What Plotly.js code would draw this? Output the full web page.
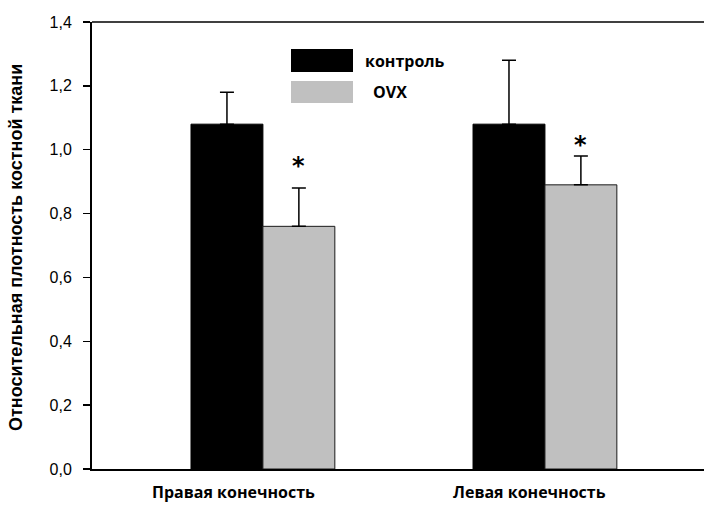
<!DOCTYPE html>
<html>
<head>
<meta charset="utf-8">
<script src="https://cdn.plot.ly/plotly-3.0.1.min.js"></script>
<style>html,body{margin:0;padding:0;background:#fff;}#chart{width:704px;height:505px;}</style>
</head>
<body>
<div id="chart"></div>
<script>
// Data
var groupLabels = ['Правая конечность', 'Левая конечность'];
var groupPos = [0, 1];
var seriesNames = ['контроль', 'OVX'];
var controlValues = [1.08, 1.08];
var controlErr = [0.10, 0.20];
var ovxValues = [0.76, 0.89];
var ovxErr = [0.12, 0.09];
var sigMarks = ['*', '*'];
var sigY = [0.95, 1.015];
var yTicks = [0, 0.2, 0.4, 0.6, 0.8, 1.0, 1.2, 1.4];

var traces = [
  {
    type: 'bar', name: seriesNames[0], x: groupPos, y: controlValues,
    marker: {color: '#000000', line: {color: '#000000', width: 1}},
    error_y: {type: 'data', array: controlErr, arrayminus: [0, 0], symmetric: false, color: '#000000', thickness: 1.5, width: 7},
    showlegend: false, hoverinfo: 'skip'
  },
  {
    type: 'bar', name: seriesNames[1], x: groupPos, y: ovxValues,
    marker: {color: '#c0c0c0', line: {color: '#1a1a1a', width: 1}},
    error_y: {type: 'data', array: ovxErr, arrayminus: [0, 0], symmetric: false, color: '#000000', thickness: 1.5, width: 7},
    showlegend: false, hoverinfo: 'skip'
  }
];

var L = 92, T = 22, W = 612, H = 447;
function px(x) { return (x - L) / W; }
function py(y) { return (T + H - y) / H; }

var barOffset = 0.1275;
var annotations = [];
// significance asterisks on OVX bars
for (var i = 0; i < groupPos.length; i++) {
  annotations.push({
    x: groupPos[i] + barOffset, y: sigY[i], xref: 'x', yref: 'y',
    text: '<b>' + sigMarks[i] + '</b>', showarrow: false,
    font: {family: 'DejaVu Sans', size: 24, color: '#000'},
    xanchor: 'center', yanchor: 'middle'
  });
}
// category labels
var labelX = [-0.103, 0.947];
for (var j = 0; j < groupLabels.length; j++) {
  annotations.push({
    x: labelX[j], y: py(504), xref: 'x', yref: 'paper',
    text: '<b>' + groupLabels[j] + '</b>', showarrow: false, borderpad: 0,
    font: {family: 'Open Sans', size: 16, color: '#000'},
    xanchor: 'center', yanchor: 'bottom'
  });
}
// y title
annotations.push({
  x: 0, y: py(248), xref: 'paper', yref: 'paper', xshift: -76,
  text: '<b>Относительная плотность костной ткани</b>', showarrow: false, textangle: -90,
  font: {family: 'Liberation Sans', size: 18, color: '#000'},
  xanchor: 'center', yanchor: 'middle'
});
// legend texts
annotations.push({
  x: px(363), y: py(61), xref: 'paper', yref: 'paper', text: '<b>' + seriesNames[0] + '</b>', showarrow: false,
  font: {family: 'Open Sans', size: 16, color: '#000'}, xanchor: 'left', yanchor: 'middle'
});
annotations.push({
  x: px(371), y: py(92), xref: 'paper', yref: 'paper', text: '<b>' + seriesNames[1] + '</b>', showarrow: false,
  font: {family: 'Open Sans', size: 16, color: '#000'}, xanchor: 'left', yanchor: 'middle'
});

var shapes = [
  {type: 'line', xref: 'paper', yref: 'paper', x0: 0, x1: 1, y0: 1, y1: 1, line: {color: '#000', width: 1.5}},
  {type: 'rect', xref: 'paper', yref: 'paper', x0: px(291), x1: px(353), y0: py(72), y1: py(49), fillcolor: '#000000', line: {width: 0}},
  {type: 'rect', xref: 'paper', yref: 'paper', x0: px(291), x1: px(353), y0: py(103), y1: py(81), fillcolor: '#c0c0c0', line: {width: 0}}
];

var layout = {
  width: 704, height: 505,
  margin: {l: L, r: 0, t: T, b: 505 - T - H},
  paper_bgcolor: '#ffffff', plot_bgcolor: '#ffffff',
  separators: ', ',
  barmode: 'group', bargap: 0.49, bargroupgap: 0,
  showlegend: false,
  xaxis: {
    range: [-0.606, 1.564], showticklabels: false, ticks: '', showgrid: false, zeroline: false,
    showline: true, linecolor: '#000', linewidth: 2, fixedrange: true
  },
  yaxis: {
    range: [0, 1.4], tickvals: yTicks, tickformat: '.1f', ticks: 'outside', ticklen: 7, tickwidth: 1.5, tickcolor: '#000',
    showgrid: false, zeroline: false, showline: true, linecolor: '#000', linewidth: 2,
    tickfont: {family: 'Liberation Sans', size: 16, color: '#000'}, ticklabelstandoff: 8, fixedrange: true
  },
  annotations: annotations,
  shapes: shapes
};

Plotly.newPlot('chart', traces, layout, {displayModeBar: false, staticPlot: true});
</script>
</body>
</html>
